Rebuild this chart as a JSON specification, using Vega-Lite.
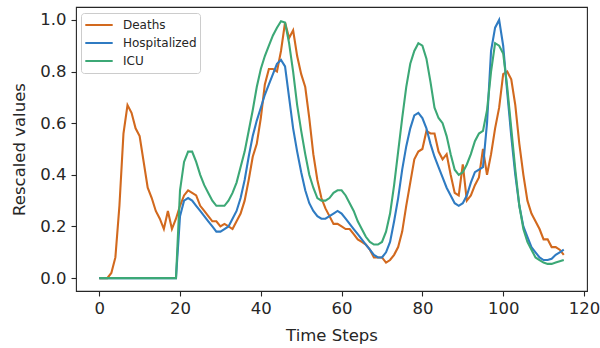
{
  "$schema": "https://vega.github.io/schema/vega-lite/v6.json",
  "autosize": "none",
  "width": 511,
  "height": 284,
  "padding": {"left": 76, "top": 7, "right": 13, "bottom": 57},
  "background": "white",
  "config": {
    "font": "DejaVu Sans",
    "view": {"stroke": "#262626", "strokeWidth": 1.1},
    "axis": {
      "domain": false,
      "grid": false,
      "tickColor": "#262626",
      "tickSize": 5,
      "tickWidth": 1.1,
      "labelFont": "DejaVu Sans",
      "labelFontSize": 16.5,
      "labelColor": "#262626",
      "titleFont": "DejaVu Sans",
      "titleFontSize": 16.5,
      "titleFontWeight": "normal",
      "titleColor": "#262626"
    }
  },
  "data": {
    "values": [
      {"t":0,"Deaths":0,"Hospitalized":0,"ICU":0},
      {"t":1,"Deaths":0,"Hospitalized":0,"ICU":0},
      {"t":2,"Deaths":0,"Hospitalized":0,"ICU":0},
      {"t":3,"Deaths":0.02,"Hospitalized":0,"ICU":0},
      {"t":4,"Deaths":0.08,"Hospitalized":0,"ICU":0},
      {"t":5,"Deaths":0.28,"Hospitalized":0,"ICU":0},
      {"t":6,"Deaths":0.56,"Hospitalized":0,"ICU":0},
      {"t":7,"Deaths":0.67,"Hospitalized":0,"ICU":0},
      {"t":8,"Deaths":0.64,"Hospitalized":0,"ICU":0},
      {"t":9,"Deaths":0.58,"Hospitalized":0,"ICU":0},
      {"t":10,"Deaths":0.55,"Hospitalized":0,"ICU":0},
      {"t":11,"Deaths":0.45,"Hospitalized":0,"ICU":0},
      {"t":12,"Deaths":0.35,"Hospitalized":0,"ICU":0},
      {"t":13,"Deaths":0.31,"Hospitalized":0,"ICU":0},
      {"t":14,"Deaths":0.26,"Hospitalized":0,"ICU":0},
      {"t":15,"Deaths":0.23,"Hospitalized":0,"ICU":0},
      {"t":16,"Deaths":0.19,"Hospitalized":0,"ICU":0},
      {"t":17,"Deaths":0.26,"Hospitalized":0,"ICU":0},
      {"t":18,"Deaths":0.19,"Hospitalized":0,"ICU":0},
      {"t":19,"Deaths":0.23,"Hospitalized":0,"ICU":0},
      {"t":20,"Deaths":0.28,"Hospitalized":0.24,"ICU":0.34},
      {"t":21,"Deaths":0.32,"Hospitalized":0.3,"ICU":0.45},
      {"t":22,"Deaths":0.34,"Hospitalized":0.31,"ICU":0.49},
      {"t":23,"Deaths":0.33,"Hospitalized":0.3,"ICU":0.49},
      {"t":24,"Deaths":0.32,"Hospitalized":0.28,"ICU":0.45},
      {"t":25,"Deaths":0.28,"Hospitalized":0.26,"ICU":0.4},
      {"t":26,"Deaths":0.26,"Hospitalized":0.24,"ICU":0.36},
      {"t":27,"Deaths":0.24,"Hospitalized":0.22,"ICU":0.33},
      {"t":28,"Deaths":0.22,"Hospitalized":0.2,"ICU":0.3},
      {"t":29,"Deaths":0.22,"Hospitalized":0.18,"ICU":0.28},
      {"t":30,"Deaths":0.2,"Hospitalized":0.18,"ICU":0.28},
      {"t":31,"Deaths":0.21,"Hospitalized":0.19,"ICU":0.28},
      {"t":32,"Deaths":0.2,"Hospitalized":0.2,"ICU":0.3},
      {"t":33,"Deaths":0.19,"Hospitalized":0.23,"ICU":0.33},
      {"t":34,"Deaths":0.22,"Hospitalized":0.26,"ICU":0.37},
      {"t":35,"Deaths":0.25,"Hospitalized":0.31,"ICU":0.43},
      {"t":36,"Deaths":0.3,"Hospitalized":0.38,"ICU":0.49},
      {"t":37,"Deaths":0.38,"Hospitalized":0.47,"ICU":0.57},
      {"t":38,"Deaths":0.47,"Hospitalized":0.55,"ICU":0.65},
      {"t":39,"Deaths":0.52,"Hospitalized":0.61,"ICU":0.74},
      {"t":40,"Deaths":0.62,"Hospitalized":0.66,"ICU":0.81},
      {"t":41,"Deaths":0.75,"Hospitalized":0.71,"ICU":0.86},
      {"t":42,"Deaths":0.81,"Hospitalized":0.75,"ICU":0.9},
      {"t":43,"Deaths":0.81,"Hospitalized":0.79,"ICU":0.94},
      {"t":44,"Deaths":0.8,"Hospitalized":0.83,"ICU":0.97},
      {"t":45,"Deaths":0.88,"Hospitalized":0.845,"ICU":0.995},
      {"t":46,"Deaths":0.99,"Hospitalized":0.82,"ICU":0.99},
      {"t":47,"Deaths":0.93,"Hospitalized":0.7,"ICU":0.91},
      {"t":48,"Deaths":0.96,"Hospitalized":0.58,"ICU":0.8},
      {"t":49,"Deaths":0.86,"Hospitalized":0.49,"ICU":0.67},
      {"t":50,"Deaths":0.79,"Hospitalized":0.41,"ICU":0.57},
      {"t":51,"Deaths":0.74,"Hospitalized":0.34,"ICU":0.48},
      {"t":52,"Deaths":0.62,"Hospitalized":0.29,"ICU":0.4},
      {"t":53,"Deaths":0.48,"Hospitalized":0.26,"ICU":0.35},
      {"t":54,"Deaths":0.38,"Hospitalized":0.24,"ICU":0.31},
      {"t":55,"Deaths":0.31,"Hospitalized":0.23,"ICU":0.3},
      {"t":56,"Deaths":0.27,"Hospitalized":0.23,"ICU":0.3},
      {"t":57,"Deaths":0.24,"Hospitalized":0.24,"ICU":0.31},
      {"t":58,"Deaths":0.21,"Hospitalized":0.25,"ICU":0.33},
      {"t":59,"Deaths":0.21,"Hospitalized":0.26,"ICU":0.34},
      {"t":60,"Deaths":0.2,"Hospitalized":0.25,"ICU":0.34},
      {"t":61,"Deaths":0.19,"Hospitalized":0.23,"ICU":0.32},
      {"t":62,"Deaths":0.19,"Hospitalized":0.21,"ICU":0.29},
      {"t":63,"Deaths":0.17,"Hospitalized":0.19,"ICU":0.26},
      {"t":64,"Deaths":0.15,"Hospitalized":0.17,"ICU":0.22},
      {"t":65,"Deaths":0.14,"Hospitalized":0.15,"ICU":0.19},
      {"t":66,"Deaths":0.13,"Hospitalized":0.13,"ICU":0.16},
      {"t":67,"Deaths":0.11,"Hospitalized":0.11,"ICU":0.14},
      {"t":68,"Deaths":0.08,"Hospitalized":0.09,"ICU":0.13},
      {"t":69,"Deaths":0.08,"Hospitalized":0.08,"ICU":0.13},
      {"t":70,"Deaths":0.08,"Hospitalized":0.08,"ICU":0.14},
      {"t":71,"Deaths":0.06,"Hospitalized":0.1,"ICU":0.18},
      {"t":72,"Deaths":0.07,"Hospitalized":0.14,"ICU":0.25},
      {"t":73,"Deaths":0.09,"Hospitalized":0.22,"ICU":0.36},
      {"t":74,"Deaths":0.12,"Hospitalized":0.31,"ICU":0.49},
      {"t":75,"Deaths":0.18,"Hospitalized":0.42,"ICU":0.62},
      {"t":76,"Deaths":0.28,"Hospitalized":0.51,"ICU":0.74},
      {"t":77,"Deaths":0.37,"Hospitalized":0.58,"ICU":0.83},
      {"t":78,"Deaths":0.46,"Hospitalized":0.63,"ICU":0.88},
      {"t":79,"Deaths":0.49,"Hospitalized":0.64,"ICU":0.91},
      {"t":80,"Deaths":0.5,"Hospitalized":0.62,"ICU":0.9},
      {"t":81,"Deaths":0.57,"Hospitalized":0.58,"ICU":0.85},
      {"t":82,"Deaths":0.56,"Hospitalized":0.52,"ICU":0.76},
      {"t":83,"Deaths":0.56,"Hospitalized":0.47,"ICU":0.66},
      {"t":84,"Deaths":0.49,"Hospitalized":0.43,"ICU":0.62},
      {"t":85,"Deaths":0.46,"Hospitalized":0.39,"ICU":0.6},
      {"t":86,"Deaths":0.48,"Hospitalized":0.35,"ICU":0.55},
      {"t":87,"Deaths":0.4,"Hospitalized":0.32,"ICU":0.48},
      {"t":88,"Deaths":0.33,"Hospitalized":0.29,"ICU":0.42},
      {"t":89,"Deaths":0.32,"Hospitalized":0.28,"ICU":0.4},
      {"t":90,"Deaths":0.44,"Hospitalized":0.29,"ICU":0.41},
      {"t":91,"Deaths":0.3,"Hospitalized":0.32,"ICU":0.44},
      {"t":92,"Deaths":0.32,"Hospitalized":0.37,"ICU":0.48},
      {"t":93,"Deaths":0.36,"Hospitalized":0.41,"ICU":0.53},
      {"t":94,"Deaths":0.39,"Hospitalized":0.42,"ICU":0.56},
      {"t":95,"Deaths":0.5,"Hospitalized":0.43,"ICU":0.57},
      {"t":96,"Deaths":0.4,"Hospitalized":0.6,"ICU":0.65},
      {"t":97,"Deaths":0.48,"Hospitalized":0.88,"ICU":0.8},
      {"t":98,"Deaths":0.58,"Hospitalized":0.97,"ICU":0.91},
      {"t":99,"Deaths":0.66,"Hospitalized":1.0,"ICU":0.9},
      {"t":100,"Deaths":0.79,"Hospitalized":0.9,"ICU":0.87},
      {"t":101,"Deaths":0.8,"Hospitalized":0.72,"ICU":0.74},
      {"t":102,"Deaths":0.77,"Hospitalized":0.55,"ICU":0.58},
      {"t":103,"Deaths":0.67,"Hospitalized":0.4,"ICU":0.42},
      {"t":104,"Deaths":0.52,"Hospitalized":0.28,"ICU":0.28},
      {"t":105,"Deaths":0.4,"Hospitalized":0.2,"ICU":0.19},
      {"t":106,"Deaths":0.3,"Hospitalized":0.16,"ICU":0.14},
      {"t":107,"Deaths":0.25,"Hospitalized":0.12,"ICU":0.11},
      {"t":108,"Deaths":0.22,"Hospitalized":0.1,"ICU":0.08},
      {"t":109,"Deaths":0.19,"Hospitalized":0.08,"ICU":0.07},
      {"t":110,"Deaths":0.15,"Hospitalized":0.07,"ICU":0.06},
      {"t":111,"Deaths":0.15,"Hospitalized":0.07,"ICU":0.055},
      {"t":112,"Deaths":0.12,"Hospitalized":0.075,"ICU":0.055},
      {"t":113,"Deaths":0.12,"Hospitalized":0.09,"ICU":0.06},
      {"t":114,"Deaths":0.11,"Hospitalized":0.1,"ICU":0.065},
      {"t":115,"Deaths":0.09,"Hospitalized":0.11,"ICU":0.07}
    ]
  },
  "transform": [
    {"fold": ["Deaths", "Hospitalized", "ICU"], "as": ["series", "value"]}
  ],
  "mark": {"type": "line", "strokeWidth": 2.1, "clip": true},
  "encoding": {
    "x": {
      "field": "t",
      "type": "quantitative",
      "title": "Time Steps",
      "scale": {"domain": [-5.75, 120.75], "nice": false, "zero": false},
      "axis": {"values": [0, 20, 40, 60, 80, 100, 120], "labelPadding": 4, "titlePadding": 11, "labelFlush": false}
    },
    "y": {
      "field": "value",
      "type": "quantitative",
      "title": "Rescaled values",
      "scale": {"domain": [-0.05, 1.05], "nice": false, "zero": false},
      "axis": {"values": [0, 0.2, 0.4, 0.6, 0.8, 1.0], "format": ".1f", "labelPadding": 5, "titlePadding": 12, "labelFlush": false}
    },
    "color": {
      "field": "series",
      "type": "nominal",
      "title": null,
      "scale": {"domain": ["Deaths", "Hospitalized", "ICU"], "range": ["#d2691e", "#2f7bc2", "#3ca876"]},
      "legend": {
        "orient": "none",
        "legendX": 5,
        "legendY": 6,
        "symbolType": "M-1,0H1",
        "symbolSize": 750,
        "symbolStrokeWidth": 2.1,
        "clipHeight": 18,
        "rowPadding": 0,
        "padding": 3,
        "labelOffset": 9,
        "labelFontSize": 12,
        "labelFont": "DejaVu Sans",
        "labelColor": "#262626",
        "strokeColor": "#cccccc",
        "fillColor": "white",
        "cornerRadius": 3
      }
    },
    "order": {"field": "t", "type": "quantitative"}
  }
}
